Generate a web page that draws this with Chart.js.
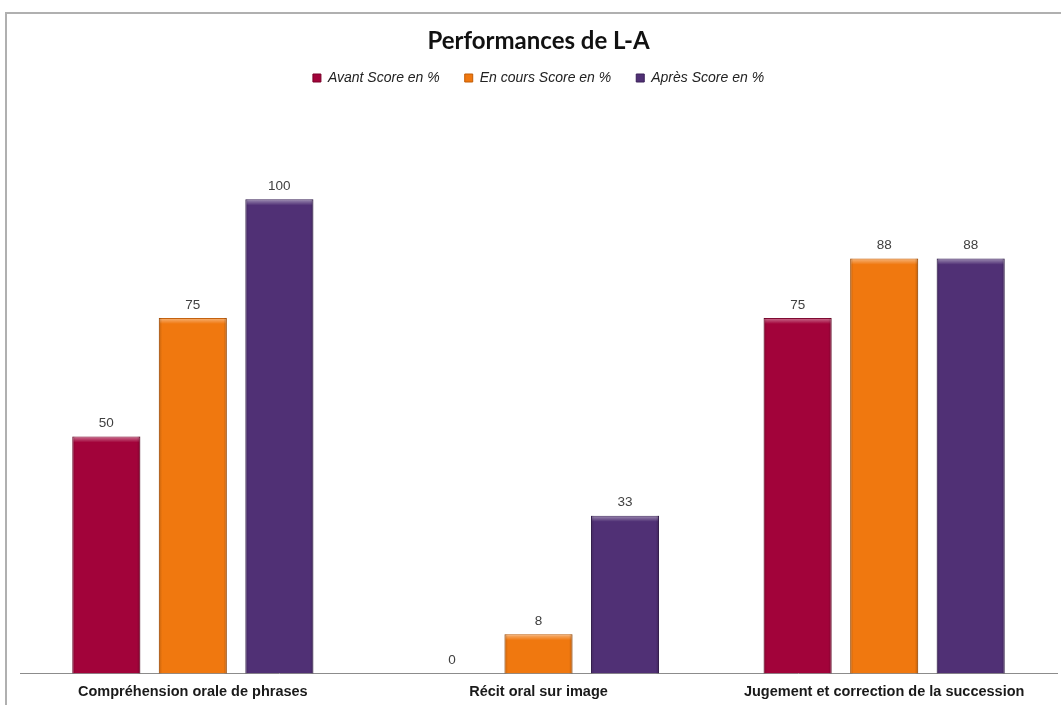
<!DOCTYPE html>
<html>
<head>
<meta charset="utf-8">
<script src="https://cdn.jsdelivr.net/npm/chart.js"></script>
<style>
  html, body { margin: 0; padding: 0; background: #fff; overflow: hidden; }
  #wrap { position: relative; width: 1061px; height: 705px; }
  #frame { position: absolute; left: 5px; top: 12px; width: 1100px; height: 800px;
           border-top: 2px solid #b0b0b0; border-left: 2px solid #b0b0b0; pointer-events: none; }
  canvas { position: absolute; left: 0; top: 0; }
</style>
</head>
<body>
<div id="wrap">
  <div id="frame"></div>
  <canvas id="chart" width="1061" height="705"></canvas>
</div>
<script>
// Chart data
const categories = ["Compréhension orale de phrases", "Récit oral sur image", "Jugement et correction de la succession"];
const seriesNames = ["Avant Score en %", "En cours Score en %", "Après Score en %"];
const avantScores = [50, 0, 75];
const enCoursScores = [75, 8.3, 87.5];
const apresScores = [100, 33.3, 87.5];
const seriesColors = ["#A2033A", "#F0780F", "#503075"];
const edgeColors = ["#7a0029", "#c25c05", "#3a2058"];

// Draw value labels above bars
const valueLabels = {
    id: "valueLabels",
    afterDatasetsDraw(chart) {
        const ctx = chart.ctx;
        ctx.save();
        ctx.font = "13.5px 'Liberation Sans', Arial, sans-serif";
        ctx.fillStyle = "#404040";
        ctx.textAlign = "center";
        ctx.textBaseline = "middle";
        chart.data.datasets.forEach((ds, i) => {
            chart.getDatasetMeta(i).data.forEach((bar, j) => {
                ctx.fillText(Math.round(ds.data[j]), bar.x, bar.y - 13);
            });
        });
        ctx.restore();
    }
};

// Give the bars a light bevel like the original
const bevel = {
    id: "bevel",
    afterDatasetsDraw(chart) {
        const ctx = chart.ctx;
        ctx.save();
        chart.data.datasets.forEach((ds, i) => {
            chart.getDatasetMeta(i).data.forEach((bar) => {
                const h = bar.base - bar.y;
                if (h < 1) return;
                const left = bar.x - bar.width / 2;
                const w = bar.width;
                // top highlight
                let g = ctx.createLinearGradient(0, bar.y, 0, bar.y + 6);
                g.addColorStop(0, "rgba(255,255,255,0.45)");
                g.addColorStop(1, "rgba(255,255,255,0)");
                ctx.fillStyle = g;
                ctx.fillRect(left + 1, bar.y + 1, w - 2, Math.min(6, h - 1));
                // side shading
                g = ctx.createLinearGradient(left, 0, left + w, 0);
                g.addColorStop(0, "rgba(0,0,0,0.18)");
                g.addColorStop(0.05, "rgba(0,0,0,0)");
                g.addColorStop(0.95, "rgba(0,0,0,0)");
                g.addColorStop(1, "rgba(0,0,0,0.22)");
                ctx.fillStyle = g;
                ctx.fillRect(left, bar.y, w, h);
            });
        });
        ctx.restore();
    }
};

const allSeries = [avantScores, enCoursScores, apresScores];

new Chart(document.getElementById("chart"), {
    type: "bar",
    data: {
        labels: categories,
        datasets: allSeries.map((values, i) => ({
            label: seriesNames[i],
            data: values,
            backgroundColor: seriesColors[i],
            borderColor: edgeColors[i],
            borderWidth: 1,
            barPercentage: 0.786,
            categoryPercentage: 0.751
        }))
    },
    options: {
        responsive: false,
        animation: false,
        devicePixelRatio: 1,
        layout: { padding: { left: 20, right: 4, top: 0, bottom: -6 } },
        plugins: {
            title: {
                display: true,
                text: "Performances de L-A",
                color: "#111",
                font: { family: "Lato, 'Open Sans', sans-serif", size: 24, weight: "bold", lineHeight: 1 },
                padding: { top: 29, bottom: -7 }
            },
            legend: {
                display: true,
                labels: {
                    boxWidth: 8,
                    boxHeight: 8,
                    padding: 25,
                    color: "#222",
                    font: { family: "'Liberation Sans', Arial, sans-serif", size: 14, style: "italic" }
                }
            },
            tooltip: { enabled: false }
        },
        scales: {
            x: {
                grid: { display: false, drawTicks: false },
                border: { display: true, color: "#8c8c8c", width: 1 },
                ticks: {
                    padding: 10,
                    color: "#1a1a1a",
                    font: { family: "'Liberation Sans', Arial, sans-serif", size: 14.5, weight: "bold" }
                }
            },
            y: {
                display: false,
                min: 0,
                max: 122
            }
        }
    },
    plugins: [bevel, valueLabels]
});
</script>
</body>
</html>
